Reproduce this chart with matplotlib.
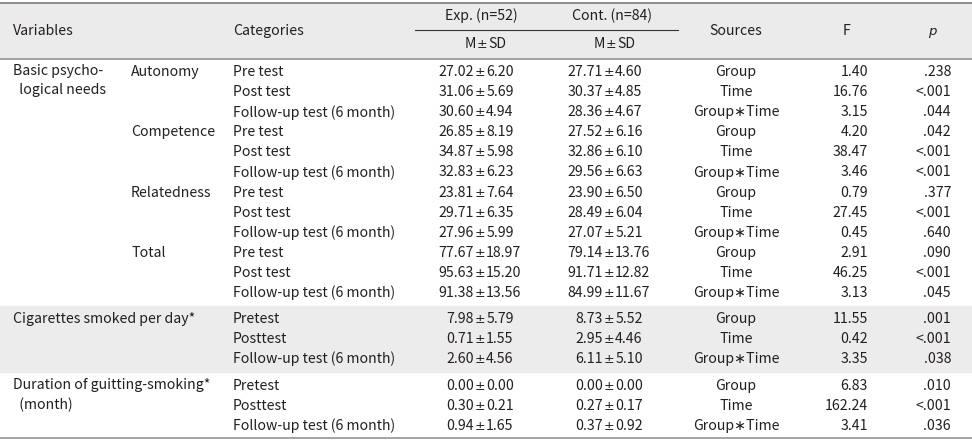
import matplotlib
matplotlib.use("Agg")
import matplotlib.pyplot as plt

plt.rcParams['font.family'] = ['Noto Sans CJK KR', 'DejaVu Sans']

# ---------------- data ----------------
variables = ["Basic psycho-\n  logical needs", "Cigarettes smoked per day*",
             "Duration of guitting-smoking*\n  (month)"]
bpn_subscales = ["Autonomy", "Competence", "Relatedness", "Total"]
bpn_times = ["Pre test", "Post test", "Follow-up test (6 month)"]
other_times = ["Pretest", "Posttest", "Follow-up test (6 month)"]
sources = ["Group", "Time", "Group\u2217Time"]

exp_mean = ["27.02", "31.06", "30.60", "26.85", "34.87", "32.83", "23.81", "29.71", "27.96",
            "77.67", "95.63", "91.38", "7.98", "0.71", "2.60", "0.00", "0.30", "0.94"]
exp_sd = ["6.20", "5.69", "4.94", "8.19", "5.98", "6.23", "7.64", "6.35", "5.99",
          "18.97", "15.20", "13.56", "5.79", "1.55", "4.56", "0.00", "0.21", "1.65"]
cont_mean = ["27.71", "30.37", "28.36", "27.52", "32.86", "29.56", "23.90", "28.49", "27.07",
             "79.14", "91.71", "84.99", "8.73", "2.95", "6.11", "0.00", "0.27", "0.37"]
cont_sd = ["4.60", "4.85", "4.67", "6.16", "6.10", "6.63", "6.50", "6.04", "5.21",
           "13.76", "12.82", "11.67", "5.52", "4.46", "5.10", "0.00", "0.17", "0.92"]
f_values = ["1.40", "16.76", "3.15", "4.20", "38.47", "3.46", "0.79", "27.45", "0.45",
            "2.91", "46.25", "3.13", "11.55", "0.42", "3.35", "6.83", "162.24", "3.41"]
p_values = [".238", "<.001", ".044", ".042", "<.001", "<.001", ".377", "<.001", ".640",
            ".090", "<.001", ".045", ".001", "<.001", ".038", ".010", "<.001", ".036"]

# ---------------- layout ----------------
W, H = 972, 442
FS = 10.2
TXT = "#231f20"
HEADER_BG = "#ebebeb"
BAND_BG = "#ececec"
RULE = "#8c8c8c"

VAR_X, SUB_X, CAT_X = 13, 131, 233
EXP_PM, CONT_PM = 480, 609
PM_GAP = 6.2
SRC_C, F_R, P_R = 736, 868, 951

fig = plt.figure(figsize=(W / 100, H / 100), dpi=100)
ax = fig.add_axes([0, 0, 1, 1])
ax.set_xlim(0, W)
ax.set_ylim(H, 0)
ax.axis("off")

def t(x, y, s, ha="left", **kw):
    kw.setdefault("fontsize", FS)
    ax.text(x, y, s, ha=ha, va="center", color=TXT, **kw)

def pm(xc, y, left, right):
    t(xc - PM_GAP, y, left, ha="right")
    t(xc, y + 0.5, "\u00b1", ha="center", family="DejaVu Sans", fontsize=9)
    t(xc + PM_GAP, y, right, ha="left")

# header background & rules
ax.axhspan(2.5, 58, color=HEADER_BG, zorder=0)
ax.axhline(2.5, color=RULE, lw=1.4)
ax.axhline(58.5, color=RULE, lw=1.1)
ax.plot([415, 678], [30, 30], color="#333333", lw=0.8)
ax.axhline(437.5, color=RULE, lw=1.1)

# band for cigarettes
ax.axhspan(306, 372, color=BAND_BG, zorder=0)

# header text
t(VAR_X, 31, "Variables")
t(CAT_X, 31, "Categories")
t(481, 16, "Exp. (n=52)", ha="center")
t(612, 16, "Cont. (n=84)", ha="center")
pm(482, 44, "M", "SD")
pm(611, 44, "M", "SD")
t(SRC_C, 31, "Sources", ha="center")
t(846, 31, "F", ha="center")
t(932, 31, "p", ha="center", family="DejaVu Sans", style="italic", fontsize=9.5)

# row positions
SP = 20.1
row_y = [72 + SP * k for k in range(12)] + [319 + 20 * k for k in range(3)] + [386 + 20 * k for k in range(3)]

# left labels
ax.text(VAR_X, row_y[0] - 8, variables[0], ha="left", va="top", fontsize=FS, color=TXT,
        linespacing=1.45)
t(VAR_X, row_y[12], variables[1])
ax.text(VAR_X, row_y[15] - 8, variables[2], ha="left", va="top", fontsize=FS, color=TXT,
        linespacing=1.45)
for i, name in enumerate(bpn_subscales):
    t(SUB_X, row_y[3 * i], name)

cats = bpn_times * 4 + other_times * 2
for i, y in enumerate(row_y):
    t(CAT_X, y, cats[i])
    pm(EXP_PM, y, exp_mean[i], exp_sd[i])
    pm(CONT_PM, y, cont_mean[i], cont_sd[i])
    t(SRC_C, y, sources[i % 3], ha="center")
    t(F_R, y, f_values[i], ha="right")
    t(P_R, y, p_values[i], ha="right")

fig.savefig("out.png", dpi=100)
